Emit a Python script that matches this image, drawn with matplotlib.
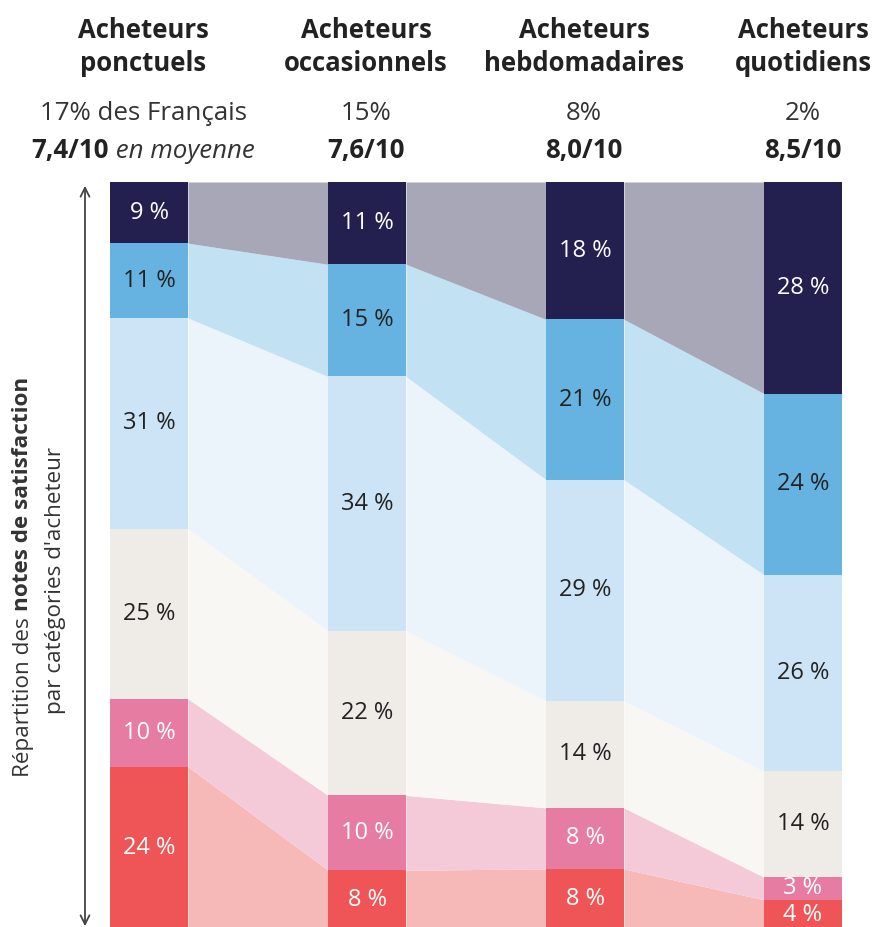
import matplotlib
matplotlib.use("Agg")
import matplotlib.pyplot as plt
from matplotlib.transforms import IdentityTransform
from matplotlib.patches import FancyArrowPatch
import numpy as np

plt.rcParams['font.family'] = ['Open Sans', 'DejaVu Sans']

# ---------------- data ----------------
title_line1 = ["Acheteurs", "Acheteurs", "Acheteurs", "Acheteurs"]
title_line2 = ["ponctuels", "occasionnels", "hebdomadaires", "quotidiens"]
population = ["17% des Français", "15%", "8%", "2%"]
avg_score = ["7,4/10", "7,6/10", "8,0/10", "8,5/10"]
avg_suffix = [" en moyenne", "", "", ""]

# segments from bottom (lowest scores) to top (highest scores)
seg_red = [24, 8, 8, 4]
seg_pink = [10, 10, 8, 3]
seg_beige = [25, 22, 14, 14]
seg_lightblue = [31, 34, 29, 26]
seg_midblue = [11, 15, 21, 24]
seg_navy = [9, 11, 18, 28]

series = [seg_red, seg_pink, seg_beige, seg_lightblue, seg_midblue, seg_navy]
bar_colors = ["#ef5557", "#e67ca2", "#efebe6", "#cde4f6", "#66b3e1", "#23204f"]
band_colors = ["#f6b9b8", "#f4cad9", "#f8f7f3", "#ecf4fb", "#c2e1f2", "#a7a7b8"]
label_colors = ["white", "white", "#222222", "#222222", "#222222", "white"]

# ---------------- figure ----------------
W, H = 875, 927
fig = plt.figure(figsize=(W / 100, H / 100), dpi=100)
fig.patch.set_facecolor("white")

bar_w = 78 / 218
ax = fig.add_axes([110 / W, -3 / H, 732 / W, 748 / H])
ax.set_xlim(-bar_w / 2, 3 + bar_w / 2)
ax.set_ylim(0, 100)
ax.axis("off")

vals = np.array(series, dtype=float)           # shape (6, 4)
pct = vals / vals.sum(axis=0) * 100
bottoms = np.vstack([np.zeros(4), np.cumsum(pct, axis=0)[:-1]])
tops = bottoms + pct
x = np.arange(4)

# bands between bars
for k in range(len(series)):
    for i in range(3):
        xs = [i + bar_w / 2, i + 1 - bar_w / 2]
        ax.fill_between(xs, [bottoms[k, i], bottoms[k, i + 1]],
                        [tops[k, i], tops[k, i + 1]],
                        color=band_colors[k], linewidth=0)

# bars
for k in range(len(series)):
    ax.bar(x, pct[k], width=bar_w, bottom=bottoms[k], color=bar_colors[k],
           linewidth=0)
    for i in range(4):
        ax.text(x[i], bottoms[k, i] + pct[k, i] / 2, f"{series[k][i]} %",
                ha="center", va="center", fontsize=17, color=label_colors[k])

# ---------------- header ----------------
PX = IdentityTransform()
col_x = [143, 366, 584, 803]
fig.canvas.draw()
renderer = fig.canvas.get_renderer()

for i in range(4):
    fig.text(col_x[i], H - 38, title_line1[i], transform=PX, ha="center",
             va="baseline", fontsize=18.5, fontweight="bold", color="#222222")
    fig.text(col_x[i], H - 71, title_line2[i], transform=PX, ha="center",
             va="baseline", fontsize=18.5, fontweight="bold", color="#222222")
    fig.text(col_x[i], H - 120, population[i], transform=PX, ha="center",
             va="baseline", fontsize=18.6, color="#333333")
    # mixed style score line
    t1 = fig.text(0, H - 158, avg_score[i], transform=PX, ha="left",
                  va="baseline", fontsize=18.6, fontweight="bold", color="#222222")
    pieces = [t1]
    if avg_suffix[i]:
        t2 = fig.text(0, H - 158, avg_suffix[i], transform=PX, ha="left",
                      va="baseline", fontsize=18.6, fontstyle="italic",
                      color="#333333")
        pieces.append(t2)
    widths = [p.get_window_extent(renderer).width for p in pieces]
    start = col_x[i] - sum(widths) / 2
    for p, wd in zip(pieces, widths):
        p.set_x(start)
        start += wd

# ---------------- vertical axis label ----------------
def rotated_line(xc, yc, parts):
    objs = []
    for txt, weight in parts:
        t = fig.text(0, 0, txt, transform=PX, rotation=90,
                     rotation_mode="anchor", ha="left", va="center",
                     fontsize=16.2, fontweight=weight, color="#333333")
        objs.append(t)
    heights = [o.get_window_extent(renderer).height for o in objs]
    y = yc - sum(heights) / 2
    for o, h in zip(objs, heights):
        o.set_position((xc, y))
        y += h

rotated_line(23, H - 577, [("Répartition des ", "normal"),
                           ("notes de satisfaction", "bold")])
rotated_line(56, H - 580, [("par catégories d'acheteur", "normal")])

arrow = FancyArrowPatch((85, H - 183), (85, H - 929), transform=PX,
                        arrowstyle="<->", mutation_scale=16, lw=1.3,
                        color="#444444")
fig.patches.append(arrow)

fig.savefig("out.png", dpi=100, facecolor="white")
